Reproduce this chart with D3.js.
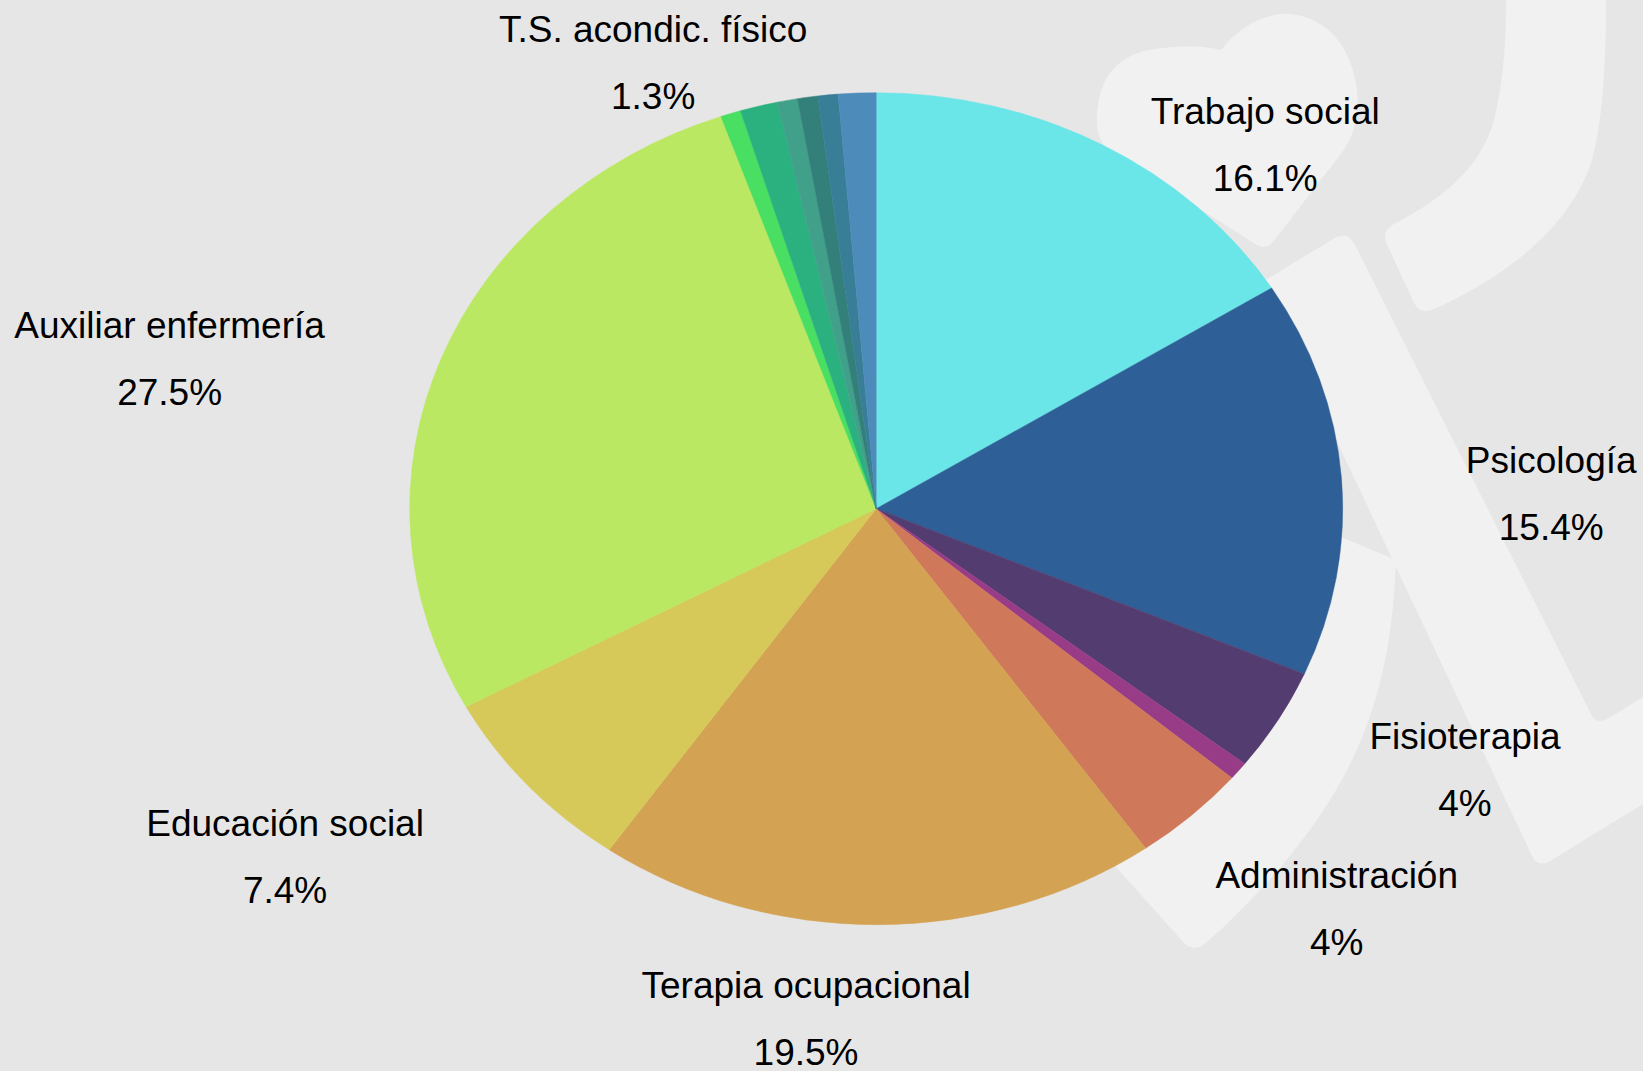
<!DOCTYPE html>
<html>
<head>
<meta charset="utf-8">
<script src="https://cdn.jsdelivr.net/npm/d3@7"></script>
<style>
  html, body { margin: 0; padding: 0; background: #e6e6e6; }
  svg { display: block; }
</style>
</head>
<body>
<div id="chart"></div>
<script>
// ---------------- data ----------------
const categories = [
  "Trabajo social", "Psicología", "Fisioterapia", "", "Administración",
  "Terapia ocupacional", "Educación social", "Auxiliar enfermería", "",
  "T.S. acondic. físico", "", "", "", ""
];
const values = [16.1, 15.4, 4.0, 0.7, 4.0, 19.5, 7.4, 27.5, 0.7, 1.3, 0.7, 0.7, 0.7, 1.3];
const sliceColors = [
  "#6ae5e8", "#2e5f96", "#523c70", "#983c88", "#d0785a",
  "#d4a253", "#d6c95a", "#bbe862", "#48df62", "#2bb17f",
  "#41a08a", "#337f7a", "#387e96", "#4d8bbb"
];

// label layout (angular nudge from slice mid-angle in degrees, radial factor)
const labelNudge = {
  "Trabajo social": [15.7, 1.186],
  "Psicología": [4.1, 1.447],
  "Fisioterapia": [-3.1, 1.423],
  "Administración": [-2.4, 1.399],
  "Terapia ocupacional": [7.0, 1.266],
  "Educación social": [7.4, 1.535],
  "Auxiliar enfermería": [-8.8, 1.550],
  "T.S. acondic. físico": [-10.1, 1.145]
};

// ---------------- layout ----------------
const W = 1643, H = 1071;
const cx = 876.2, cy = 508.7, rx = 466.5, ry = 416;

const svg = d3.select("#chart").append("svg")
  .attr("width", W).attr("height", H);

svg.append("rect").attr("width", W).attr("height", H).attr("fill", "#e6e6e6");

// watermark logo (decorative background)
const wm = svg.append("g").attr("fill", "#f1f1f1");
wm.append("path").attr("d",
  "M1221,50 C1240,25 1268,12 1290,14 C1330,18 1352,50 1357,90 C1360,120 1352,140 1340,155 " +
  "L1273,242 Q1266,250 1257,245 L1110,152 C1097,142 1095,122 1098,105 C1102,75 1120,55 1150,50 " +
  "C1180,45 1205,46 1221,50 Z");
wm.append("path").attr("d",
  "M1506,0 L1606,0 C1606,60 1603,120 1592,160 C1570,230 1500,280 1432,310 Q1420,314 1414,303 " +
  "L1386,242 Q1382,230 1394,224 C1440,200 1480,170 1494,120 C1504,80 1506,40 1506,0 Z");
wm.append("path").attr("d",
  "M1262,282 L1335,238 Q1348,231 1355,245 L1592,716 Q1598,725 1609,718 L1643,697 L1643,804 " +
  "L1550,861 Q1538,868 1532,856 Z");
wm.append("path").attr("d",
  "M1300,520 L1396,560 C1393,640 1380,720 1330,800 C1292,860 1245,908 1206,943 Q1195,952 1185,944 " +
  "L1108,858 L1150,700 Z");

// ---------------- pie ----------------
const data = categories.map((c, i) => ({ name: c, v: values[i], color: sliceColors[i] }));
const pie = d3.pie().sort(null).value(d => d.v);
const arcs = pie(data);
const arc = d3.arc().innerRadius(0).outerRadius(rx);

const g = svg.append("g")
  .attr("transform", `translate(${cx},${cy}) scale(1,${ry / rx})`);

g.selectAll("path.slice")
  .data(arcs)
  .enter().append("path")
  .attr("class", "slice")
  .attr("d", arc)
  .attr("fill", d => d.data.color)
  .attr("stroke", d => d.data.color)
  .attr("stroke-width", 0.5);

// ---------------- labels ----------------
const fmt = v => {
  const s = d3.format(".1f")(v);
  return (s.endsWith(".0") ? s.slice(0, -2) : s) + "%";
};
const total = d3.sum(values);

const labels = svg.append("g")
  .attr("font-family", "'Liberation Sans', Arial, Helvetica, sans-serif")
  .attr("font-size", 37)
  .attr("fill", "#000")
  .attr("text-anchor", "middle");

arcs.filter(d => d.data.name && labelNudge[d.data.name]).forEach(d => {
  const [nudge, f] = labelNudge[d.data.name];
  const a = (d.startAngle + d.endAngle) / 2 + nudge * Math.PI / 180;
  const x = cx + rx * f * Math.sin(a);
  const y = cy - ry * f * Math.cos(a);
  labels.append("text").attr("x", x).attr("y", y - 33.5).text(d.data.name);
  labels.append("text").attr("x", x).attr("y", y + 33.5).text(fmt(d.data.v / total * 100));
});
</script>
</body>
</html>
